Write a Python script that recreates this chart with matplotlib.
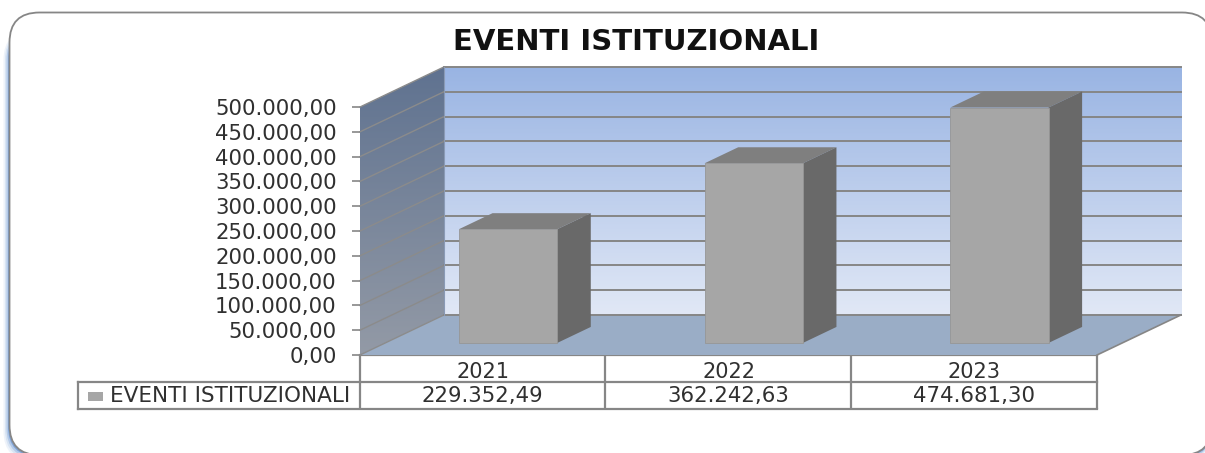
import numpy as np
import matplotlib
matplotlib.use('Agg')
import matplotlib.pyplot as plt
from matplotlib.patches import FancyBboxPatch, Polygon, Rectangle

title = 'EVENTI ISTITUZIONALI'
series_name = 'EVENTI ISTITUZIONALI'
years = ['2021', '2022', '2023']
values = [229352.49, 362242.63, 474681.30]
y_ticks = [0, 50000, 100000, 150000, 200000, 250000, 300000, 350000, 400000, 450000, 500000]

W, H = 1205, 453
DX, DY = 0.342, 80800   # depth of the 3d box in data units
GRID = '#868686'
TEXT = '#303030'


def fmt(v):
    # italian number format, 1.234,56
    return f'{v:,.2f}'.replace(',', '#').replace('.', ',').replace('#', '.')


def gradient(ax, fig, extent, top, bottom, clip=None):
    c1 = np.array(matplotlib.colors.to_rgb(top))
    c2 = np.array(matplotlib.colors.to_rgb(bottom))
    t = np.linspace(0, 1, 256)[:, None, None]
    img = (1 - t) * c1 + t * c2
    im = ax.imshow(img, extent=extent, aspect='auto', origin='upper', zorder=1)
    im.set_clip_box(fig.bbox)
    if clip is None:
        im.set_clip_on(False)
    else:
        patch = Polygon(clip, transform=ax.transData, fill=False, edgecolor='none')
        im.set_clip_path(patch)


fig = plt.figure(figsize=(W / 100, H / 100), dpi=100, facecolor='white')

# frame and table live in a pixel-sized background axes
bg = fig.add_axes([0, 0, 1, 1])
bg.set_xlim(0, W)
bg.set_ylim(H, 0)
bg.axis('off')
# soft blue shadow, only shows on the left and in the lower corners
for off, col in [(6, '#eef3fa'), (4.5, '#d8e4f3'), (3, '#b4cae8'), (1.5, '#7ea3d8')]:
    bg.add_patch(FancyBboxPatch((9.5 - off, 30), 1202.5 + off, 425 + off,
                                boxstyle='round,pad=0,rounding_size=30',
                                fc=col, ec='none', zorder=1))
bg.add_patch(FancyBboxPatch((9.5, 12.5), 1202.5, 442.5, boxstyle='round,pad=0,rounding_size=30',
                            fc='white', ec='#868686', lw=1.3, zorder=3))

bg.text(636, 42, title, ha='center', va='center', fontsize=21, fontweight='bold',
        color='#111111', zorder=5)

# data table under the plot
col_x = [360, 605, 851, 1097]
centers = [482.5, 728, 974]
for x in col_x:
    bg.plot([x, x], [355, 409], color=GRID, lw=1.6, zorder=5, solid_capstyle='butt')
bg.plot([360, 1097], [355, 355], color=GRID, lw=1.6, zorder=5)
bg.plot([78, 1097], [382, 382], color=GRID, lw=1.6, zorder=5)
bg.plot([78, 1097], [409, 409], color=GRID, lw=1.6, zorder=5)
bg.plot([78, 78], [382, 409], color=GRID, lw=1.6, zorder=5)
bg.add_patch(Rectangle((88, 392), 15, 9, fc='#a6a6a6', ec='none', zorder=5))
bg.text(110, 396, series_name, ha='left', va='center', fontsize=15.5, color=TEXT, zorder=5)
for cx, v in zip(centers, values):
    bg.text(cx, 396, fmt(v), ha='center', va='center', fontsize=15.3, color=TEXT, zorder=5)

# plot area, the axes is the front plane of the 3d box
ax = fig.add_axes([360 / W, (H - 355) / H, 737 / W, 248 / H])
ax.patch.set_visible(False)
for s in ax.spines.values():
    s.set_visible(False)

top = y_ticks[-1]
gradient(ax, fig, (DX, 3 + DX, DY, top + DY), '#99b4e3', '#e1e8f6')
gradient(ax, fig, (0, DX, 0, top + DY), '#5f7290', '#939aa6',
         clip=[(0, 0), (DX, DY), (DX, top + DY), (0, top)])
ax.add_patch(Polygon([(0, 0), (3, 0), (3 + DX, DY), (DX, DY)], fc='#9aadc6', ec='none',
                     zorder=2, clip_on=False))
ax.plot([3, 3 + DX], [0, DY], color=GRID, lw=1.2, zorder=3, clip_on=False)

for v in y_ticks:
    ax.plot([0, DX], [v, v + DY], color='#8b8b8b', lw=1.0, zorder=3, clip_on=False)
    ax.plot([DX, 3 + DX], [v + DY, v + DY], color=GRID, lw=1.4, zorder=3, clip_on=False)
ax.plot([DX, DX], [DY, top + DY], color='#8a9ab5', lw=0.8, zorder=3, clip_on=False)

# bars: front face from the library, top and side follow from the same values
pos = np.arange(3) + 0.5 + 0.3 * DX
bar_w = 0.4
base = 0.3 * DY
ddx, ddy = 0.4 * DX, 0.4 * DY
ax.bar(pos, values, width=bar_w, bottom=base, color='#a6a6a6', edgecolor='#969696', lw=0.6,
       zorder=6, clip_on=False)
for p, v in zip(pos, values):
    l, r = p - bar_w / 2, p + bar_w / 2
    ax.add_patch(Polygon([(l, base + v), (r, base + v), (r + ddx, base + v + ddy), (l + ddx, base + v + ddy)],
                         fc='#7f7f7f', ec='none', zorder=5, clip_on=False))
    ax.add_patch(Polygon([(r, base), (r + ddx, base + ddy), (r + ddx, base + v + ddy), (r, base + v)],
                         fc='#696969', ec='none', zorder=5, clip_on=False))

ax.set_xlim(0, 3)
ax.set_ylim(0, top)
ax.set_xticks(np.arange(3) + 0.5)
ax.set_xticklabels(years, fontsize=15, color=TEXT)
ax.tick_params(axis='x', length=0, pad=5)
ax.set_yticks(y_ticks)
ax.set_yticklabels([fmt(v) for v in y_ticks], fontsize=15.3, color=TEXT)
ax.tick_params(axis='y', length=5.8, width=1.2, color=GRID, pad=11)

fig.savefig('out.png', dpi=100)
